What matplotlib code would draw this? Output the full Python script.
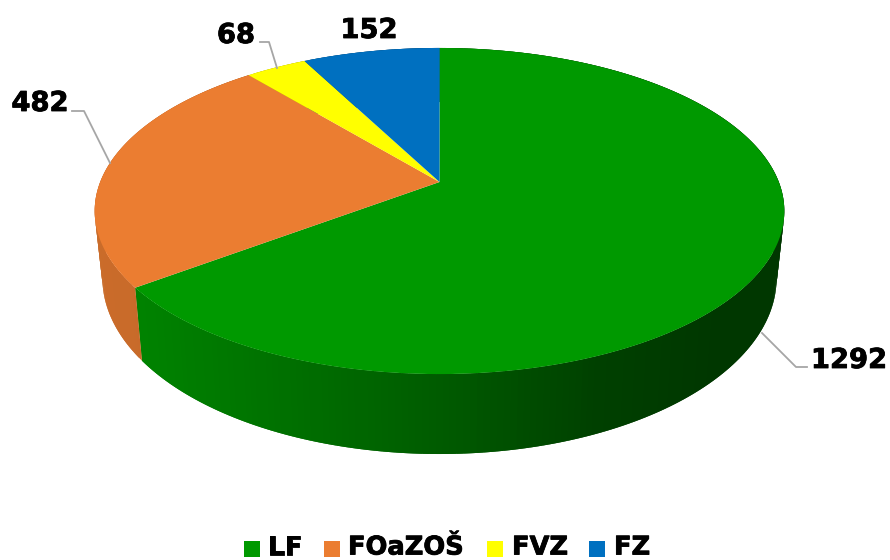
import numpy as np
import matplotlib.pyplot as plt
import matplotlib.patheffects as pe
from matplotlib.patches import Polygon, Rectangle

# values clockwise from 12 o'clock
labels = ["LF", "FOaZOŠ", "FVZ", "FZ"]
values = [1292, 482, 68, 152]
colors = ["#009900", "#EB7D31", "#FFFF00", "#0070C0"]

# tilted disc: (half width, y of centre, y coefficient) for top face and bottom rim
CX = 439.5
K = 0.178
TOP = (339.3, 182.0, -125.5)
BOTTOM = (331.7, 246.7, -126.5)

# wall shading against horizontal position
SHADE_X = [100, 142, 300, 439, 600, 720, 790]
SHADE_F = [0.86, 0.85, 0.72, 0.60, 0.42, 0.36, 0.36]

LABEL_POS = [(849, 368), (40, 111), (236, 43), (369, 38)]
LEADERS = [
    [(762, 333), (796, 367), (807, 367)],
    [(110, 163), (84, 111), (72, 111)],
    [(277, 68), (269, 42), (260, 42)],
    None,
]
LEGEND_BOX_X = [244, 324, 487, 589]
LEGEND_TEXT_X = [268, 348, 512, 614]


def project(theta, disc):
    c, b, a = disc
    x, y = np.sin(theta), np.cos(theta)
    w = 1 + K * y
    return CX + c * x / w, (a * y + b) / w


def shade(color, f):
    rgb = np.array(plt.matplotlib.colors.to_rgb(color))
    return tuple(rgb * f)


heavy = [pe.withStroke(linewidth=0.6, foreground="black")]

fig = plt.figure(figsize=(8.9, 5.6), dpi=100)
ax = fig.add_axes([0, 0, 1, 1])
ax.set_xlim(0, 890)
ax.set_ylim(560, 0)
ax.axis("off")

edges = np.concatenate([[0], np.cumsum(values)]) / np.sum(values) * 2 * np.pi

# side wall first, the top face covers the hidden part of it
for i, col in enumerate(colors):
    th = np.linspace(edges[i], edges[i + 1], max(int((edges[i + 1] - edges[i]) * 60), 3))
    for j in range(len(th) - 1):
        # each strip runs into the next one so no seams show
        t0, t1 = th[j], th[min(j + 2, len(th) - 1)]
        tm = np.linspace(t0, t1, 4)
        xt, yt = project(tm, TOP)
        xb, yb = project(tm[::-1], BOTTOM)
        f = np.interp((xt[0] + xt[1]) / 2, SHADE_X, SHADE_F)
        ax.add_patch(Polygon(list(zip(xt, yt)) + list(zip(xb, yb)),
                             facecolor=shade(col, f), edgecolor="none"))

# top face
for i, col in enumerate(colors):
    th = np.linspace(edges[i], edges[i + 1], 200)
    xs, ys = project(th, TOP)
    pts = [(CX, TOP[1])] + list(zip(xs, ys))
    ax.add_patch(Polygon(pts, facecolor=col, edgecolor="none", zorder=3))

for val, pos, leader in zip(values, LABEL_POS, LEADERS):
    ax.text(pos[0], pos[1], str(val), ha="center", va="baseline",
            fontsize=19.7, fontweight="bold", color="black", zorder=5,
            path_effects=heavy)
    if leader:
        ax.plot(*zip(*leader), color="#a6a6a6", lw=1.3, zorder=4)

for name, col, bx, tx in zip(labels, colors, LEGEND_BOX_X, LEGEND_TEXT_X):
    ax.add_patch(Rectangle((bx, 541), 16, 16, facecolor=col, edgecolor="none"))
    ax.text(tx, 554.5, name, ha="left", va="baseline",
            fontsize=18.5, fontweight="bold", color="black", path_effects=heavy)

fig.savefig("out.png", dpi=100)
plt.close(fig)
